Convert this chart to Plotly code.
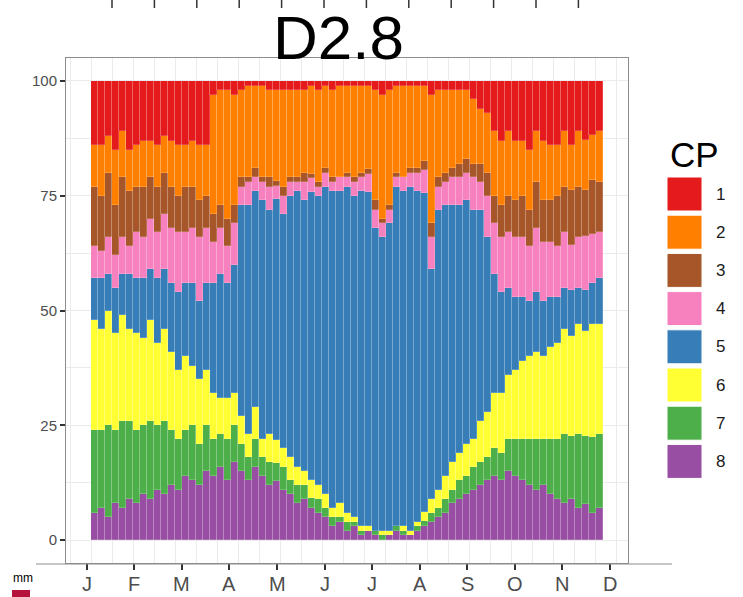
import plotly.graph_objects as go

# Circulation-pattern (CP) frequencies per pentad (73 five-day periods), percent of days
pentads = list(range(1, 74))
cp_labels = ["1", "2", "3", "4", "5", "6", "7", "8"]
cp_colors = ["#E41A1C", "#FF7F00", "#A65628", "#F781BF",
             "#377EB8", "#FFFF33", "#4DAF4A", "#984EA3"]
month_labels = ["J", "F", "M", "A", "M", "J", "J", "A", "S", "O", "N", "D"]

cp1 = [14, 14, 12, 15, 11, 15, 14, 13, 13, 14, 12, 13, 14, 14, 13, 14, 14, 3, 2, 2, 3,
       2, 1, 1, 1, 2, 2, 2, 2, 2, 2, 1, 2, 1, 2, 1, 1, 1, 1, 1, 2, 3, 2, 1, 1, 1, 1, 1,
       3, 2, 2, 2, 2, 2, 4, 6, 7, 11, 13, 11, 13, 13, 15, 11, 13, 14, 14, 11, 14, 11, 13, 12, 11]
cp2 = [9, 11, 8, 12, 10, 9, 9, 10, 8, 9, 8, 10, 11, 9, 10, 12, 11, 26, 25, 28, 24,
       19, 20, 18, 20, 19, 20, 21, 19, 19, 18, 19, 20, 18, 19, 20, 19, 20, 19, 18, 24, 27, 25, 19, 20, 18, 18, 16,
       28, 19, 18, 17, 16, 15, 14, 12, 13, 14, 14, 14, 13, 12, 13, 11, 13, 12, 11, 12, 10, 12, 11, 10, 11]
cp3 = [13, 12, 14, 11, 13, 12, 10, 11, 9, 10, 9, 9, 8, 10, 9, 8, 7, 6, 5, 6, 4,
       2, 1, 2, 1, 2, 1, 2, 1, 1, 2, 1, 1, 1, 1, 0, 1, 1, 1, 1, 2, 1, 1, 1, 0, 1, 1, 2,
       3, 2, 2, 2, 3, 3, 3, 4, 5, 6, 7, 8, 8, 9, 8, 10, 9, 9, 11, 10, 12, 11, 10, 12, 11]
cp4 = [7, 6, 8, 7, 8, 6, 10, 9, 11, 10, 12, 12, 13, 11, 12, 14, 12, 9, 10, 8, 9,
       4, 5, 3, 4, 5, 3, 4, 3, 2, 4, 3, 2, 3, 2, 3, 2, 3, 3, 4, 4, 3, 3, 2, 3, 3, 4, 5,
       7, 5, 5, 6, 6, 6, 7, 6, 9, 11, 12, 12, 13, 13, 12, 14, 13, 12, 11, 12, 10, 11, 12, 11, 10]
cp5 = [9, 11, 8, 10, 9, 12, 12, 13, 11, 14, 13, 15, 17, 16, 18, 17, 19, 24, 27, 25, 28,
       46, 50, 47, 52, 49, 53, 51, 57, 60, 59, 62, 63, 67, 69, 68, 71, 70, 73, 72, 66, 64, 67, 74, 73, 75, 72, 68,
       50, 61, 59, 56, 54, 53, 50, 46, 38, 26, 22, 19, 16, 14, 12, 13, 12, 11, 10, 9, 10, 8, 9, 9, 10]
cp6 = [24, 22, 25, 21, 23, 20, 21, 19, 22, 18, 20, 17, 15, 16, 13, 14, 12, 10, 8, 9, 7,
       6, 5, 7, 4, 6, 5, 4, 5, 4, 3, 4, 3, 3, 2, 3, 2, 1, 1, 1, 0, 1, 1, 0, 1, 1, 1, 2,
       3, 4, 5, 6, 6, 7, 6, 9, 10, 12, 13, 14, 15, 17, 18, 19, 18, 20, 21, 23, 22, 24, 23, 25, 24]
cp7 = [18, 17, 20, 16, 19, 17, 16, 15, 17, 14, 16, 12, 11, 10, 12, 9, 10, 8, 7, 9, 8,
       6, 5, 6, 4, 5, 4, 5, 3, 4, 3, 2, 3, 2, 2, 1, 2, 1, 1, 0, 1, 1, 0, 1, 1, 0, 1, 1,
       2, 2, 3, 3, 4, 4, 5, 5, 5, 6, 6, 7, 8, 9, 10, 11, 10, 12, 13, 15, 14, 16, 15, 17, 16]
cp8 = [6, 7, 5, 8, 7, 9, 8, 10, 9, 11, 10, 12, 11, 14, 13, 12, 15, 14, 16, 13, 17,
       15, 13, 16, 14, 12, 13, 11, 10, 8, 9, 7, 6, 5, 3, 4, 2, 3, 1, 2, 1, 0, 1, 2, 1, 1, 2, 3,
       4, 5, 6, 8, 9, 10, 11, 12, 13, 14, 13, 15, 14, 13, 12, 11, 12, 10, 9, 8, 9, 7, 8, 6, 7]

series = [cp1, cp2, cp3, cp4, cp5, cp6, cp7, cp8]

W, H = 743, 597
L, R, T, B = 66, 115, 58, 34
PW, PH = W - L - R, H - T - B


def px_x(px):
    return (px - L) / PW


def px_y(py):
    return (H - B - py) / PH


FONT = "Liberation Sans, Arial, Helvetica, sans-serif"

fig = go.Figure()
# CP 8 at the bottom of each stack, CP 1 on top
for lab, col, vals in reversed(list(zip(cp_labels, cp_colors, series))):
    fig.add_trace(go.Bar(x=pentads, y=vals, name=lab, marker_color=col,
                         marker_line=dict(width=0.6, color="rgba(255,255,255,0.3)"),
                         showlegend=False))

month_pos = [-0.15 + 6.79 * k for k in range(len(month_labels))]

fig.update_layout(
    width=W, height=H,
    margin=dict(l=L, r=R, t=T, b=B, pad=0, autoexpand=False),
    barmode="stack", barnorm="percent", bargap=0,
    paper_bgcolor="white", plot_bgcolor="white",
    font=dict(family=FONT, color="#4d4d4d"),
    xaxis=dict(range=[-3.1, 77.1], tickmode="array", tickvals=month_pos,
               ticktext=[""] * len(month_labels),
               ticks="outside", ticklen=6, tickwidth=1.5, tickcolor="#333333",
               automargin=False, showgrid=False, zeroline=False,
               showline=True, mirror=True, linecolor="#8c8c8c", linewidth=1,
               minor=dict(tickmode="linear", tick0=0.5, dtick=3, showgrid=True,
                          gridcolor="#ebebeb", gridwidth=1, ticks="")),
    yaxis=dict(range=[-5, 105], tickmode="array", tickvals=[0, 25, 50, 75, 100],
               ticks="outside", ticklen=5, tickwidth=1.5, tickcolor="#333333",
               tickfont=dict(size=15, color="#4d4d4d"), automargin=False,
               showgrid=True, gridcolor="#ebebeb", gridwidth=1, zeroline=False,
               showline=True, mirror=True, linecolor="#8c8c8c", linewidth=1,
               minor=dict(tickmode="linear", tick0=0, dtick=12.5, showgrid=True,
                          gridcolor="#ebebeb", gridwidth=1, ticks="")),
)

shapes = []
annotations = []

# month labels under the tick marks
for pos, lab in zip(month_pos, month_labels):
    annotations.append(dict(text=lab, x=pos, y=px_y(584), xref="x", yref="paper",
                            xanchor="center", yanchor="middle", showarrow=False,
                            font=dict(size=20, color="#4d4d4d", family=FONT)))

# title
annotations.append(dict(text="D2.8", x=px_x(338), y=px_y(38), xref="paper", yref="paper",
                        xanchor="center", yanchor="middle", showarrow=False,
                        font=dict(size=62, color="black", family=FONT)))

# long axis baseline under the panel
shapes.append(dict(type="line", xref="paper", yref="paper", x0=px_x(36), x1=px_x(672),
                   y0=px_y(564), y1=px_y(564), line=dict(color="#8c8c8c", width=1)))

# tick marks of the neighbouring panel above
for k in range(12):
    xx = px_x(112 + 42.4 * k)
    shapes.append(dict(type="line", xref="paper", yref="paper", x0=xx, x1=xx,
                       y0=px_y(0), y1=px_y(8), line=dict(color="#333333", width=1.5)))

# legend: title, keys and labels
annotations.append(dict(text="CP", x=px_x(668), y=px_y(155), xref="paper", yref="paper",
                        xanchor="left", yanchor="middle", showarrow=False,
                        font=dict(size=35, color="black", family=FONT)))
for k, (lab, col) in enumerate(zip(cp_labels, cp_colors)):
    top = 177 + 38.2 * k
    shapes.append(dict(type="rect", xref="paper", yref="paper",
                       x0=px_x(667), x1=px_x(702), y0=px_y(top + 34), y1=px_y(top),
                       fillcolor=col, line=dict(color="white", width=1)))
    annotations.append(dict(text=lab, x=px_x(714), y=px_y(top + 17), xref="paper", yref="paper",
                            xanchor="left", yanchor="middle", showarrow=False,
                            font=dict(size=17, color="#1a1a1a", family=FONT)))

# fragment of a neighbouring legend, bottom left
annotations.append(dict(text="mm", x=px_x(11), y=px_y(578), xref="paper", yref="paper",
                        xanchor="left", yanchor="middle", showarrow=False,
                        font=dict(size=12, color="black", family=FONT)))
shapes.append(dict(type="rect", xref="paper", yref="paper",
                   x0=px_x(12), x1=px_x(30), y0=px_y(597), y1=px_y(590),
                   fillcolor="#b5123e", line=dict(width=0)))

fig.update_layout(shapes=shapes, annotations=annotations)
fig.write_html("out.html")
